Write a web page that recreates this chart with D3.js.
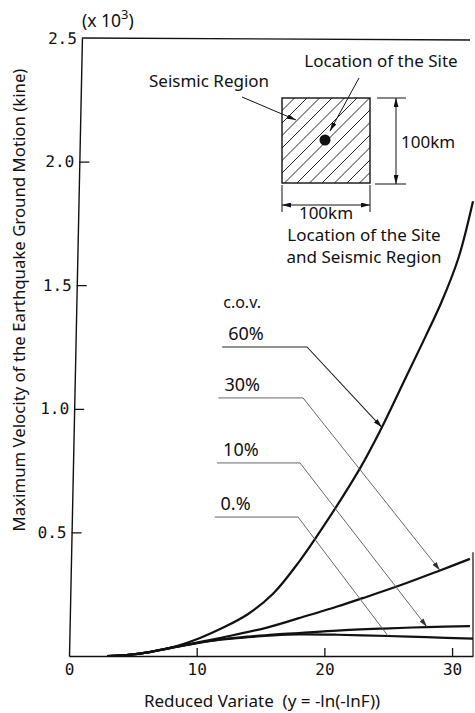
<!DOCTYPE html>
<html>
<head>
<meta charset="utf-8">
<script src="https://cdn.jsdelivr.net/npm/d3@7"></script>
<style>
  html, body { margin: 0; padding: 0; background: #fff; }
  svg { display: block; }
  text { font-family: "Noto Sans", "Open Sans", sans-serif; fill: #111; }
</style>
</head>
<body>
<svg id="chart" width="475" height="713"></svg>
<script>
// ---------------- data ----------------
const xTickValues = [0, 10, 20, 30];
const yTickValues = [0.5, 1.0, 1.5, 2.0, 2.5];
const xMax = 31.64;

// reduced variate (x) and maximum velocity (x 10^3 kine) for each c.o.v.
const u60 = [3, 4.5, 6.3, 8.15, 10.26, 12, 14, 16, 18, 19.9, 22.8, 24.5, 26.5, 27.9, 29.2, 30.5, 31.64];
const v60 = [0, 0.004, 0.016, 0.036, 0.073, 0.113, 0.169, 0.253, 0.38, 0.522, 0.76, 0.925, 1.14, 1.29, 1.435, 1.61, 1.84];

const u30 = [3, 4.5, 6.3, 8, 10.3, 12, 15.5, 18, 21, 23, 26, 29, 31.4];
const v30 = [0, 0.004, 0.016, 0.034, 0.057, 0.075, 0.115, 0.153, 0.2, 0.234, 0.287, 0.345, 0.393];

const u10 = [3, 4.5, 6.3, 8, 10, 12, 14, 16, 18, 21, 24.6, 28, 31.4];
const v10 = [0, 0.004, 0.016, 0.033, 0.052, 0.068, 0.078, 0.087, 0.093, 0.103, 0.111, 0.117, 0.121];

const u0 = [3, 4.5, 6.3, 8, 10, 12, 14, 16, 18, 21, 25, 28, 31.64];
const v0 = [0, 0.004, 0.016, 0.033, 0.052, 0.067, 0.076, 0.083, 0.087, 0.086, 0.081, 0.076, 0.07];

const covLabels = ["60%", "30%", "10%", "0.%"];
const leaderLevel = [1.25, 1.044, 0.781, 0.562];   // y value of label leader
const leaderStart = [12.0, 11.7, 11.6, 11.4];       // x where leader begins
const leaderBend  = [18.64, 18.33, 18.09, 17.94];   // x where leader bends
const leaderTarget = [24.5, 29.06, 28.04, 24.99];   // x where arrow meets the curve

// ---------------- layout ----------------
const svg = d3.select("#chart");
const X0 = 69, XR = 473, Y0 = 656, YT = 38;
const x = d3.scaleLinear().domain([0, xMax]).range([X0, XR]);
const y = d3.scaleLinear().domain([0, 2.5]).range([Y0, YT]);
const skewDeg = -1.2; // slight tilt of the scanned y axis

const defs = svg.append("defs");
function marker(id, w, h, color) {
  defs.append("marker").attr("id", id)
    .attr("viewBox", `0 0 ${w} ${h}`).attr("refX", w).attr("refY", h / 2)
    .attr("markerWidth", w).attr("markerHeight", h).attr("markerUnits", "userSpaceOnUse")
    .attr("orient", "auto")
    .append("path").attr("d", `M0,0L${w},${h/2}L0,${h}Z`).attr("fill", color);
}
marker("arr", 9, 5, "#111");
marker("arrg", 9, 5, "#333");

// ---------------- axes ----------------
const xAxis = d3.axisBottom(x).tickValues(xTickValues).tickSize(-8).tickSizeOuter(0).tickPadding(8)
  .tickFormat(d3.format("d"));
const gx = svg.append("g").attr("transform", `translate(0,${Y0})`).call(xAxis);
gx.select(".domain").attr("stroke", "#111").attr("stroke-width", 1.4);
gx.selectAll(".tick line").attr("stroke", "#111").attr("stroke-width", 1.3)
  .attr("display", d => d === 0 ? "none" : null);
gx.selectAll(".tick text").attr("font-size", 16).attr("fill", "#222")
  .style("font-family", "'DejaVu Sans Mono', monospace");

const yAxis = d3.axisLeft(y).tickValues(yTickValues).tickSize(-10).tickSizeOuter(0).tickPadding(5)
  .tickFormat(d3.format(".1f"));
const gy = svg.append("g")
  .attr("transform", `translate(${X0},${Y0}) skewX(${skewDeg}) translate(0,${-Y0})`)
  .call(yAxis);
gy.select(".domain").attr("stroke", "#111").attr("stroke-width", 1.4);
gy.selectAll(".tick line").attr("stroke", "#111").attr("stroke-width", 1.3)
  .attr("display", d => d === 2.5 ? "none" : null);
gy.selectAll(".tick text").attr("font-size", 16).attr("fill", "#222")
  .style("font-family", "'DejaVu Sans Mono', monospace");

// frame: top border and short right edge
const topLeftX = X0 - Math.tan(skewDeg * Math.PI / 180) * (Y0 - YT);
svg.append("line").attr("x1", topLeftX).attr("y1", y(2.5)).attr("x2", x(xMax) - 3).attr("y2", y(2.5) + 2)
  .attr("stroke", "#111").attr("stroke-width", 1.3);
svg.append("line").attr("x1", x(xMax)).attr("y1", y(0.42)).attr("x2", x(xMax)).attr("y2", y(0))
  .attr("stroke", "#111").attr("stroke-width", 1.2);

// (x 10^3)
const mult = svg.append("text").attr("x", topLeftX).attr("y", 27).attr("font-size", 17.5);
mult.append("tspan").text("(x 10");
mult.append("tspan").attr("dy", -8).attr("font-size", 13).text("3");
mult.append("tspan").attr("dy", 8).text(")");

// axis titles
svg.append("text").attr("transform", `translate(25,300) rotate(-90)`)
  .attr("text-anchor", "middle").attr("font-size", 16.8)
  .text("Maximum Velocity of the Earthquake Ground Motion (kine)");
svg.append("text").attr("x", 262).attr("y", 707).attr("text-anchor", "middle").attr("font-size", 17)
  .style("white-space", "pre")
  .text("Reduced Variate  (y = -ln(-lnF))");

// ---------------- curves ----------------
const series = [
  { u: u60, v: v60 },
  { u: u30, v: v30 },
  { u: u10, v: v10 },
  { u: u0,  v: v0 }
];
const line = d3.line().x(d => x(d[0])).y(d => y(d[1])).curve(d3.curveCatmullRom.alpha(0.5));
svg.append("g").selectAll("path").data(series).join("path")
  .attr("d", s => line(s.u.map((uu, i) => [uu, s.v[i]])))
  .attr("fill", "none").attr("stroke", "#111").attr("stroke-width", 2.2);

function interp(s, uu) {
  for (let i = 0; i < s.u.length - 1; i++) {
    if (uu >= s.u[i] && uu <= s.u[i + 1]) {
      const t = (uu - s.u[i]) / (s.u[i + 1] - s.u[i]);
      return s.v[i] + t * (s.v[i + 1] - s.v[i]);
    }
  }
  return s.v[s.v.length - 1];
}

// ---------------- c.o.v. labels & leaders ----------------
svg.append("text").attr("x", x(leaderStart[0]) + 1).attr("y", y(leaderLevel[0]) - 39)
  .attr("font-size", 16).text("c.o.v.");
covLabels.forEach((lab, i) => {
  const ly = y(leaderLevel[i]);
  svg.append("text").attr("x", x(leaderStart[i]) + 6).attr("y", ly - 7)
    .attr("font-size", 18).text(lab);
  const tx = leaderTarget[i], tv = interp(series[i], tx);
  svg.append("path")
    .attr("d", d3.line()([[x(leaderStart[i]), ly], [x(leaderBend[i]), ly], [x(tx), y(tv)]]))
    .attr("fill", "none")
    .attr("stroke", i === 0 ? "#222" : "#555")
    .attr("stroke-width", i === 0 ? 1.1 : 0.9)
    .attr("marker-end", i === 3 ? null : (i === 0 ? "url(#arr)" : "url(#arrg)"));
});

// ---------------- inset diagram ----------------
const sq = { x: 282, y: 98, w: 88, h: 85 };
const inset = svg.append("g");
defs.append("clipPath").attr("id", "sqclip").append("rect")
  .attr("x", sq.x).attr("y", sq.y).attr("width", sq.w).attr("height", sq.h);
const hatch = inset.append("g").attr("clip-path", "url(#sqclip)");
for (let a = sq.x - sq.h; a <= sq.x + sq.w; a += 12.5) {
  hatch.append("line").attr("x1", a).attr("y1", sq.y + sq.h).attr("x2", a + sq.h).attr("y2", sq.y)
    .attr("stroke", "#222").attr("stroke-width", 1);
}
inset.append("rect").attr("x", sq.x).attr("y", sq.y).attr("width", sq.w).attr("height", sq.h)
  .attr("fill", "none").attr("stroke", "#111").attr("stroke-width", 1.4);
inset.append("circle").attr("cx", 325).attr("cy", 140).attr("r", 5.5).attr("fill", "#111");

const insetFont = 17;
inset.append("text").attr("x", 381).attr("y", 67).attr("text-anchor", "middle").attr("font-size", insetFont)
  .text("Location of the Site");
inset.append("line").attr("x1", 359).attr("y1", 78).attr("x2", 330).attr("y2", 131)
  .attr("stroke", "#111").attr("stroke-width", 1).attr("marker-end", "url(#arr)");
inset.append("text").attr("x", 149).attr("y", 87).attr("font-size", insetFont).text("Seismic Region");
inset.append("line").attr("x1", 242).attr("y1", 97).attr("x2", 296).attr("y2", 120)
  .attr("stroke", "#111").attr("stroke-width", 1).attr("marker-end", "url(#arr)");

// vertical dimension
inset.append("line").attr("x1", 377).attr("y1", sq.y).attr("x2", 406).attr("y2", sq.y).attr("stroke", "#111");
inset.append("line").attr("x1", 375).attr("y1", sq.y + sq.h + 1).attr("x2", 406).attr("y2", sq.y + sq.h + 1).attr("stroke", "#111");
inset.append("line").attr("x1", 396).attr("y1", 141).attr("x2", 396).attr("y2", sq.y)
  .attr("stroke", "#111").attr("marker-end", "url(#arr)");
inset.append("line").attr("x1", 396).attr("y1", 141).attr("x2", 396).attr("y2", sq.y + sq.h + 1)
  .attr("stroke", "#111").attr("marker-end", "url(#arr)");
inset.append("text").attr("x", 401).attr("y", 148).attr("font-size", insetFont).text("100km");

// horizontal dimension
inset.append("line").attr("x1", sq.x).attr("y1", sq.y + sq.h + 2).attr("x2", sq.x).attr("y2", 212).attr("stroke", "#111");
inset.append("line").attr("x1", sq.x + sq.w).attr("y1", sq.y + sq.h + 2).attr("x2", sq.x + sq.w).attr("y2", 212).attr("stroke", "#111");
inset.append("line").attr("x1", 326).attr("y1", 205).attr("x2", sq.x).attr("y2", 205)
  .attr("stroke", "#111").attr("marker-end", "url(#arr)");
inset.append("line").attr("x1", 326).attr("y1", 205).attr("x2", sq.x + sq.w).attr("y2", 205)
  .attr("stroke", "#111").attr("marker-end", "url(#arr)");
inset.append("text").attr("x", 326).attr("y", 219).attr("text-anchor", "middle").attr("font-size", insetFont).text("100km");

inset.append("text").attr("x", 364).attr("y", 241).attr("text-anchor", "middle").attr("font-size", insetFont)
  .text("Location of the Site");
inset.append("text").attr("x", 364).attr("y", 263).attr("text-anchor", "middle").attr("font-size", insetFont)
  .text("and Seismic Region");
</script>
</body>
</html>
